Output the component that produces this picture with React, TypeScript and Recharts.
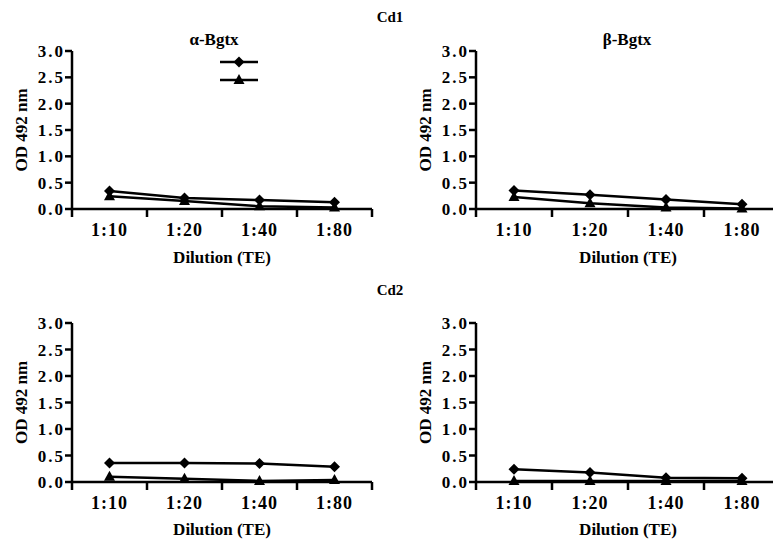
import React from "react";
import { LineChart, Line, XAxis, YAxis, Legend } from "recharts";

const dilutions = ["1:10", "1:20", "1:40", "1:80"];
const yTicks = [0, 0.5, 1, 1.5, 2, 2.5, 3];

// Cd1
const cd1AlphaDiamond = [0.34, 0.21, 0.17, 0.13];
const cd1AlphaTriangle = [0.24, 0.15, 0.05, 0.03];
const cd1BetaDiamond = [0.35, 0.27, 0.18, 0.09];
const cd1BetaTriangle = [0.23, 0.11, 0.03, 0.01];
// Cd2
const cd2AlphaDiamond = [0.36, 0.36, 0.35, 0.29];
const cd2AlphaTriangle = [0.1, 0.06, 0.02, 0.04];
const cd2BetaDiamond = [0.24, 0.18, 0.08, 0.07];
const cd2BetaTriangle = [0.02, 0.02, 0.02, 0.02];

const FONT = "Liberation Serif, Times New Roman, serif";
const INK = "#000";
const txt = { fontFamily: FONT, fontWeight: 700, fill: INK };

function toRows(diamond: number[], triangle: number[]) {
  return dilutions.map((d, i) => ({ name: d, diamond: diamond[i], triangle: triangle[i] }));
}

function DiamondDot(props: any) {
  const { cx, cy } = props;
  if (cx == null || cy == null) return null;
  return <path d={`M${cx},${cy - 5.5}L${cx + 5.5},${cy}L${cx},${cy + 5.5}L${cx - 5.5},${cy}Z`} fill={INK} />;
}

function TriangleDot(props: any) {
  const { cx, cy } = props;
  if (cx == null || cy == null) return null;
  return <path d={`M${cx},${cy - 6}L${cx + 5.5},${cy + 4}L${cx - 5.5},${cy + 4}Z`} fill={INK} />;
}

function XTick(props: any) {
  const { x, y, payload, index, half } = props;
  const last = index === dilutions.length - 1;
  return (
    <g>
      <line x1={x - half} x2={x - half} y1={y} y2={y + 8} stroke={INK} strokeWidth={2.5} />
      {last && <line x1={x + half} x2={x + half} y1={y} y2={y + 8} stroke={INK} strokeWidth={2.5} />}
      <text x={x} y={y + 27} textAnchor="middle" style={{ ...txt, fontSize: 18, letterSpacing: 1 }}>
        {payload.value}
      </text>
    </g>
  );
}

function LegendMarks() {
  return (
    <svg width={40} height={36}>
      <line x1={0} x2={38} y1={8} y2={8} stroke={INK} strokeWidth={2.5} />
      <DiamondDot cx={19} cy={8} />
      <line x1={0} x2={38} y1={26} y2={26} stroke={INK} strokeWidth={2.5} />
      <TriangleDot cx={19} cy={26} />
    </svg>
  );
}

interface PanelProps {
  data: { name: string; diamond: number; triangle: number }[];
  left: number;
  top: number;
  width: number;
  plotTop: number;
  axisHeight: number;
  labelOffset: number;
  half: number;
  rightMargin: number;
  legend?: boolean;
}

function Panel({ data, left, top, width, plotTop, axisHeight, labelOffset, half, rightMargin, legend }: PanelProps) {
  return (
    <div style={{ position: "absolute", left, top }}>
      <LineChart width={width} height={270} data={data} margin={{ top: plotTop, right: rightMargin, bottom: 0, left: 0 }}>
        <XAxis
          dataKey="name"
          interval={0}
          height={axisHeight}
          padding={{ left: half, right: half }}
          axisLine={{ stroke: INK, strokeWidth: 2.5 }}
          tickLine={false}
          tickSize={0}
          tickMargin={0}
          tick={(p: any) => <XTick {...p} half={half} />}
          label={{
            value: "Dilution (TE)",
            position: "insideBottom",
            offset: labelOffset,
            style: { ...txt, fontSize: 17 },
          }}
        />
        <YAxis
          width={72}
          domain={[0, 3]}
          ticks={yTicks}
          interval={0}
          tickFormatter={(v: number) => v.toFixed(1)}
          axisLine={{ stroke: INK, strokeWidth: 2.5 }}
          tickLine={{ stroke: INK, strokeWidth: 2.5 }}
          tickSize={7}
          tickMargin={0}
          tick={{ fontSize: 17, style: { ...txt, fontSize: 17, letterSpacing: 2 } }}
          label={{
            value: "OD 492 nm",
            angle: -90,
            position: "insideLeft",
            offset: 21,
            style: { ...txt, textAnchor: "middle", fontSize: 17 },
          }}
        />
        {legend && (
          <Legend
            layout="horizontal"
            verticalAlign="middle"
            align="center"
            content={() => <LegendMarks />}
            wrapperStyle={{ position: "absolute", left: 220, top: 54, width: 40, height: 36 }}
          />
        )}
        <Line
          dataKey="diamond"
          name="diamond"
          type="linear"
          stroke={INK}
          strokeWidth={2.5}
          dot={(p: any) => <DiamondDot key={`d-${p.index}`} {...p} />}
          isAnimationActive={false}
        />
        <Line
          dataKey="triangle"
          name="triangle"
          type="linear"
          stroke={INK}
          strokeWidth={2.5}
          dot={(p: any) => <TriangleDot key={`t-${p.index}`} {...p} />}
          isAnimationActive={false}
        />
      </LineChart>
    </div>
  );
}

function Title({ text, x, y, size }: { text: string; x: number; y: number; size: number }) {
  return (
    <div
      style={{
        position: "absolute",
        left: x - 60,
        top: y - 10,
        width: 120,
        height: 20,
        lineHeight: "20px",
        textAlign: "center",
        fontFamily: FONT,
        fontWeight: 700,
        fontSize: size,
        color: INK,
      }}
    >
      {text}
    </div>
  );
}

export default function App() {
  return (
    <div
      style={{
        position: "absolute",
        left: 0,
        top: 0,
        width: 773,
        height: 540,
        overflow: "hidden",
        background: "#fff",
      }}
    >
      <Panel data={toRows(cd1AlphaDiamond, cd1AlphaTriangle)} left={0} top={0} width={380} plotTop={51} axisHeight={61} labelOffset={7} half={37.5} rightMargin={8} legend />
      <Panel data={toRows(cd1BetaDiamond, cd1BetaTriangle)} left={404} top={0} width={376} plotTop={51} axisHeight={61} labelOffset={7} half={38} rightMargin={0} />
      <Panel data={toRows(cd2AlphaDiamond, cd2AlphaTriangle)} left={0} top={270} width={380} plotTop={53} axisHeight={58} labelOffset={5} half={37.5} rightMargin={8} />
      <Panel data={toRows(cd2BetaDiamond, cd2BetaTriangle)} left={404} top={270} width={376} plotTop={53} axisHeight={58} labelOffset={5} half={38} rightMargin={0} />
      <Title text="Cd1" x={390} y={17} size={15} />
      <Title text="α-Bgtx" x={214} y={40} size={17} />
      <Title text="β-Bgtx" x={627} y={40} size={17} />
      <Title text="Cd2" x={390} y={290} size={15} />
    </div>
  );
}
